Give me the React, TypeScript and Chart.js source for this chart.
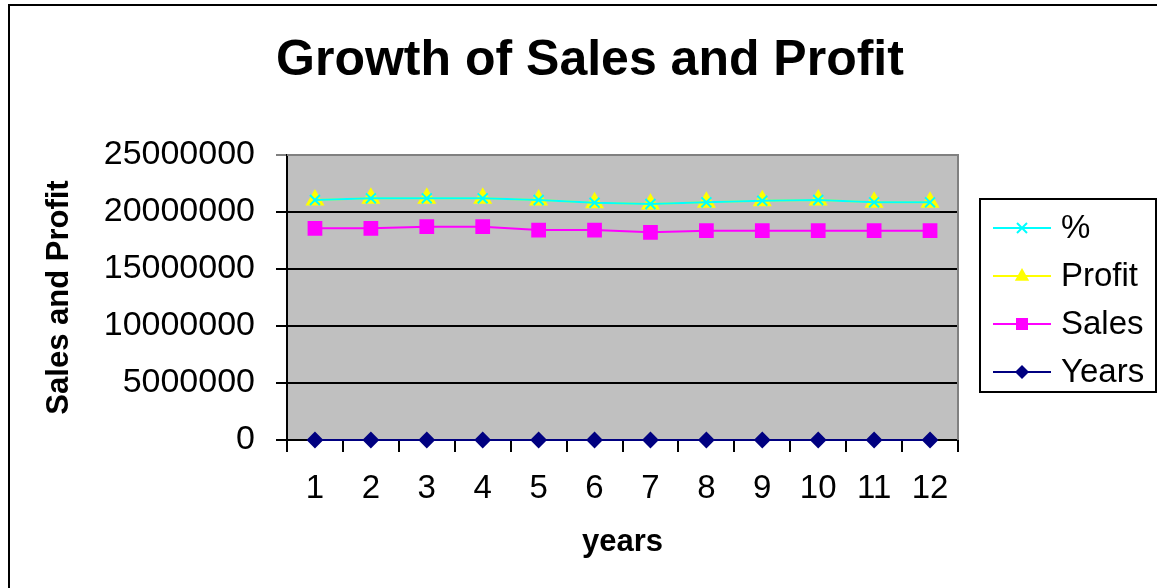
import React, { useEffect, useRef } from "react";
import { Chart, registerables } from "chart.js";

Chart.register(...registerables);

const categories = ["1", "2", "3", "4", "5", "6", "7", "8", "9", "10", "11", "12"];
const years = [1, 2, 3, 4, 5, 6, 7, 8, 9, 10, 11, 12];
const sales = [18570000, 18570000, 18710000, 18710000, 18420000, 18420000, 18220000, 18360000, 18360000, 18360000, 18360000, 18360000];
const profit = [2480000, 2630000, 2490000, 2490000, 2630000, 2400000, 2480000, 2490000, 2630000, 2690000, 2490000, 2490000];
const percent = [13.4, 14.2, 13.3, 13.3, 14.3, 13.0, 13.6, 13.6, 14.3, 14.6, 13.6, 13.6];
const yTicks = [0, 5000000, 10000000, 15000000, 20000000, 25000000];

const FONT = "'Liberation Sans', Arial, sans-serif";

const CYAN = "#00FFFF";
const YELLOW = "#FFFF00";
const MAGENTA = "#FF00FF";
const NAVY = "#000080";

function drawMarker(ctx: CanvasRenderingContext2D, kind: string, x: number, y: number, color: string) {
  ctx.save();
  ctx.fillStyle = color;
  ctx.strokeStyle = color;
  ctx.lineWidth = 2;
  ctx.beginPath();
  if (kind === "cross") {
    const s = 5;
    ctx.moveTo(x - s, y - s);
    ctx.lineTo(x + s, y + s);
    ctx.moveTo(x + s, y - s);
    ctx.lineTo(x - s, y + s);
    ctx.stroke();
  } else if (kind === "triangle") {
    const r = 8;
    ctx.moveTo(x, y - r);
    ctx.lineTo(x + r * 0.9, y + r * 0.6);
    ctx.lineTo(x - r * 0.9, y + r * 0.6);
    ctx.closePath();
    ctx.fill();
  } else if (kind === "square") {
    const s = 6;
    ctx.rect(x - s, y - s, 2 * s, 2 * s);
    ctx.fill();
  } else if (kind === "diamond") {
    const r = 7;
    ctx.moveTo(x, y - r);
    ctx.lineTo(x + r, y);
    ctx.lineTo(x, y + r);
    ctx.lineTo(x - r, y);
    ctx.closePath();
    ctx.fill();
  }
  ctx.restore();
}

const plotPlugin = {
  id: "plotDecor",
  beforeDraw(chart: any) {
    const { ctx, chartArea: a } = chart;
    ctx.save();
    ctx.fillStyle = "#C0C0C0";
    ctx.fillRect(a.left, a.top, a.right - a.left, a.bottom - a.top);
    ctx.restore();
  },
  beforeDatasetsDraw(chart: any) {
    const { ctx, chartArea: a } = chart;
    ctx.save();
    ctx.strokeStyle = "#808080";
    ctx.lineWidth = 2;
    ctx.beginPath();
    ctx.moveTo(a.left, a.top);
    ctx.lineTo(a.right, a.top);
    ctx.lineTo(a.right, a.bottom);
    ctx.stroke();
    ctx.restore();
  },
  afterDraw(chart: any) {
    const { ctx } = chart;
    ctx.save();
    // Title
    ctx.fillStyle = "#000";
    ctx.font = `bold 50px ${FONT}`;
    ctx.textAlign = "center";
    ctx.textBaseline = "alphabetic";
    ctx.fillText("Growth of Sales and Profit", 590, 75);

    // Legend
    ctx.strokeStyle = "#000";
    ctx.lineWidth = 2;
    ctx.strokeRect(980, 199, 176, 193);
    const items = [
      { label: "%", color: CYAN, kind: "cross" },
      { label: "Profit", color: YELLOW, kind: "triangle" },
      { label: "Sales", color: MAGENTA, kind: "square" },
      { label: "Years", color: NAVY, kind: "diamond" },
    ];
    items.forEach((it, i) => {
      const y = 228 + i * 48;
      ctx.strokeStyle = it.color;
      ctx.lineWidth = 2;
      ctx.beginPath();
      ctx.moveTo(993, y);
      ctx.lineTo(1051, y);
      ctx.stroke();
      drawMarker(ctx, it.kind, 1022, y, it.color);
      ctx.fillStyle = "#000";
      ctx.font = `33px ${FONT}`;
      ctx.textAlign = "left";
      ctx.textBaseline = "middle";
      ctx.fillText(it.label, 1061, y + 1);
    });
    ctx.restore();
  },
};

export default function App() {
  const ref = useRef<HTMLCanvasElement | null>(null);

  useEffect(() => {
    if (!ref.current) return;
    const cumYears = years.slice();
    const cumSales = sales.map((v, i) => v + cumYears[i]);
    const cumProfit = profit.map((v, i) => v + cumSales[i]);
    const cumPct = percent.map((v, i) => v + cumProfit[i]);

    const chart = new Chart(ref.current, {
      type: "line",
      data: {
        labels: categories,
        datasets: [
          {
            label: "%",
            data: cumPct,
            borderColor: CYAN,
            backgroundColor: CYAN,
            borderWidth: 2,
            pointStyle: "crossRot",
            pointRadius: 7,
            pointBorderWidth: 2,
            pointBorderColor: CYAN,
            clip: false,
          },
          {
            label: "Profit",
            data: cumProfit,
            borderColor: YELLOW,
            backgroundColor: YELLOW,
            borderWidth: 2,
            pointStyle: "triangle",
            pointRadius: 9,
            pointBorderColor: YELLOW,
            clip: false,
          },
          {
            label: "Sales",
            data: cumSales,
            borderColor: MAGENTA,
            backgroundColor: MAGENTA,
            borderWidth: 2,
            pointStyle: "rect",
            pointRadius: 9,
            pointBorderColor: MAGENTA,
            clip: false,
          },
          {
            label: "Years",
            data: cumYears,
            borderColor: NAVY,
            backgroundColor: NAVY,
            borderWidth: 2,
            pointStyle: "rectRot",
            pointRadius: 7,
            pointBorderColor: NAVY,
            clip: false,
          },
        ],
      },
      options: {
        animation: false,
        responsive: false,
        devicePixelRatio: 1,
        layout: { padding: { left: 0, top: 155, right: 199, bottom: 0 } },
        plugins: {
          legend: { display: false },
          title: { display: false },
          tooltip: { enabled: false },
        },
        elements: { line: { tension: 0 } },
        scales: {
          x: {
            type: "category",
            offset: true,
            afterFit: (s: any) => {
              s.height = 148;
            },
            grid: {
              offset: true,
              drawOnChartArea: false,
              drawTicks: true,
              tickLength: 12,
              color: "#000",
              lineWidth: 2,
            },
            border: { display: true, color: "#000", width: 2 },
            ticks: {
              color: "#000",
              font: { family: FONT, size: 33 },
              padding: 17,
              maxRotation: 0,
              autoSkip: false,
            },
            title: {
              display: true,
              text: "years",
              color: "#000",
              font: { family: FONT, size: 31, weight: "bold" },
              padding: { top: 0, bottom: 27 },
            },
          },
          y: {
            min: 0,
            max: 25000000,
            afterFit: (s: any) => {
              s.width = 287;
            },
            afterBuildTicks: (s: any) => {
              s.ticks = yTicks.map((v) => ({ value: v }));
            },
            grid: {
              drawTicks: true,
              tickLength: 11,
              color: (c: any) => (c.tick && c.tick.value === 25000000 ? "#808080" : "#000"),
              lineWidth: 2,
            },
            border: { display: true, color: "#000", width: 2 },
            ticks: {
              color: "#000",
              font: { family: FONT, size: 34 },
              padding: 21,
              callback: (v: any) => String(v),
            },
            title: {
              display: true,
              text: "Sales and Profit",
              color: "#000",
              font: { family: FONT, size: 31, weight: "bold" },
              padding: { top: 41, bottom: 0 },
            },
          },
        },
      },
      plugins: [plotPlugin],
    } as any);
    return () => chart.destroy();
  }, []);

  return (
    <div style={{ position: "fixed", left: 0, top: 0, width: 1157, height: 588, overflow: "hidden", background: "#fff" }}>
      <div
        style={{
          position: "absolute",
          left: 8,
          top: 4,
          width: 1300,
          height: 700,
          border: "2px solid #000",
        }}
      />
      <canvas
        ref={ref}
        width={1157}
        height={588}
        style={{ position: "absolute", left: 0, top: 0, width: 1157, height: 588 }}
      />
    </div>
  );
}
